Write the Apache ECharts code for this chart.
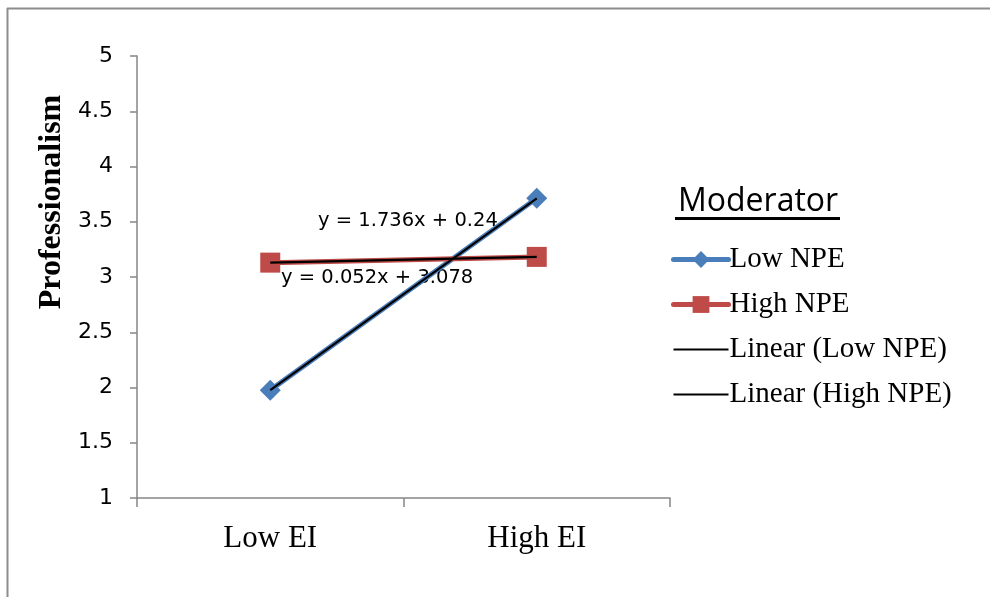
<!DOCTYPE html>
<html>
<head>
<meta charset="utf-8">
<script src="https://cdn.jsdelivr.net/npm/echarts@6/dist/echarts.min.js"></script>
<style>
  html, body { margin: 0; padding: 0; background: #fff; }
  #chart { width: 990px; height: 597px; }
</style>
</head>
<body>
<div id="chart"></div>
<script>
// Interaction plot: Professionalism by EI level, moderated by NPE
const categories = ['Low EI', 'High EI'];
const lowNPE = [1.976, 3.712];
const highNPE = [3.13, 3.182];
// Linear trend fits (slope, intercept) for each group, x = 1..2
const trendLow = { slope: 1.736, intercept: 0.24 };
const trendHigh = { slope: 0.052, intercept: 3.078 };
const yTicks = [1, 1.5, 2, 2.5, 3, 3.5, 4, 4.5, 5];
const seriesNames = ['Low NPE', 'High NPE', 'Linear (Low NPE)', 'Linear (High NPE)'];

function trendValues(t) {
  return categories.map((c, i) => +(t.slope * (i + 1) + t.intercept).toFixed(3));
}
function equation(t) {
  return 'y = ' + t.slope + 'x + ' + t.intercept;
}

const axisGray = '#868686';
const blue = '#4a7ebb';
const red = '#be4b48';
const thinLineIcon = 'path://M0,0H50V2H0Z';

const chart = echarts.init(document.getElementById('chart'));

chart.setOption({
  animation: false,
  backgroundColor: '#fff',
  grid: { left: 137, right: 320, top: 56, bottom: 99 },
  xAxis: {
    type: 'category',
    data: categories,
    boundaryGap: true,
    axisLine: { lineStyle: { color: axisGray, width: 1.5 } },
    axisTick: { show: true, length: 9, lineStyle: { color: axisGray, width: 1.5 } },
    axisLabel: { color: '#000', fontFamily: 'Liberation Serif', fontSize: 31, margin: 25 }
  },
  yAxis: {
    type: 'value',
    min: 1, max: 5, interval: 0.5,
    splitLine: { show: false },
    axisLine: { show: true, lineStyle: { color: axisGray, width: 1.5 } },
    axisTick: { show: true, length: 7, lineStyle: { color: axisGray, width: 1.5 } },
    axisLabel: {
      color: '#000', fontFamily: 'DejaVu Sans', fontSize: 22, margin: 24,
      formatter: v => (yTicks.includes(v) ? String(v) : '')
    }
  },
  legend: {
    orient: 'vertical',
    left: 666, top: 240,
    itemWidth: 55, itemHeight: 21,
    itemGap: 16,
    lineStyle: { width: 'inherit', cap: 'round' },
    data: [
      { name: seriesNames[0] },
      { name: seriesNames[1] },
      { name: seriesNames[2], icon: thinLineIcon },
      { name: seriesNames[3], icon: thinLineIcon }
    ],
    textStyle: { color: '#000', fontFamily: 'Liberation Serif', fontSize: 29, lineHeight: 29, padding: [0, 0, 0, -4] }
  },
  series: [
    {
      name: seriesNames[0], type: 'line', data: lowNPE,
      symbol: 'diamond', symbolSize: 21,
      lineStyle: { color: blue, width: 5, cap: 'round' },
      itemStyle: { color: blue }, z: 2
    },
    {
      name: seriesNames[1], type: 'line', data: highNPE,
      symbol: 'rect', symbolSize: 20,
      lineStyle: { color: red, width: 5, cap: 'round' },
      itemStyle: { color: red }, z: 2
    },
    {
      name: seriesNames[2], type: 'line', data: trendValues(trendLow),
      symbol: 'none', lineStyle: { color: '#000', width: 2.2 },
      itemStyle: { color: '#000' }, z: 3
    },
    {
      name: seriesNames[3], type: 'line', data: trendValues(trendHigh),
      symbol: 'none', lineStyle: { color: '#000', width: 2.2 },
      itemStyle: { color: '#000' }, z: 3
    }
  ],
  graphic: [
    // chart frame (top and left edges)
    { type: 'line', shape: { x1: 7, y1: 8.5, x2: 990, y2: 8.5 }, style: { stroke: '#8c8c8c', lineWidth: 2 } },
    { type: 'line', shape: { x1: 7.5, y1: 8, x2: 7.5, y2: 597 }, style: { stroke: '#8c8c8c', lineWidth: 2 } },
    // y axis title
    {
      type: 'text', x: 52, y: 202, rotation: Math.PI / 2,
      style: {
        text: 'Professionalism', fill: '#000',
        font: 'bold 32px "Liberation Serif"', align: 'center', verticalAlign: 'middle'
      }
    },
    // legend title with underline
    {
      type: 'text', x: 678, y: 202,
      style: { text: 'Moderator', fill: '#000', font: '32px "Open Sans"', verticalAlign: 'middle' }
    },
    { type: 'rect', shape: { x: 675, y: 217, width: 165, height: 3 }, style: { fill: '#000' } },
    // trendline equations
    {
      type: 'text', x: 318, y: 221,
      style: { text: equation(trendLow), fill: '#000', font: '19.5px "DejaVu Sans"', verticalAlign: 'middle' }
    },
    {
      type: 'text', x: 281, y: 278,
      style: { text: equation(trendHigh), fill: '#000', font: '19.5px "DejaVu Sans"', verticalAlign: 'middle' }
    }
  ]
});
</script>
</body>
</html>
